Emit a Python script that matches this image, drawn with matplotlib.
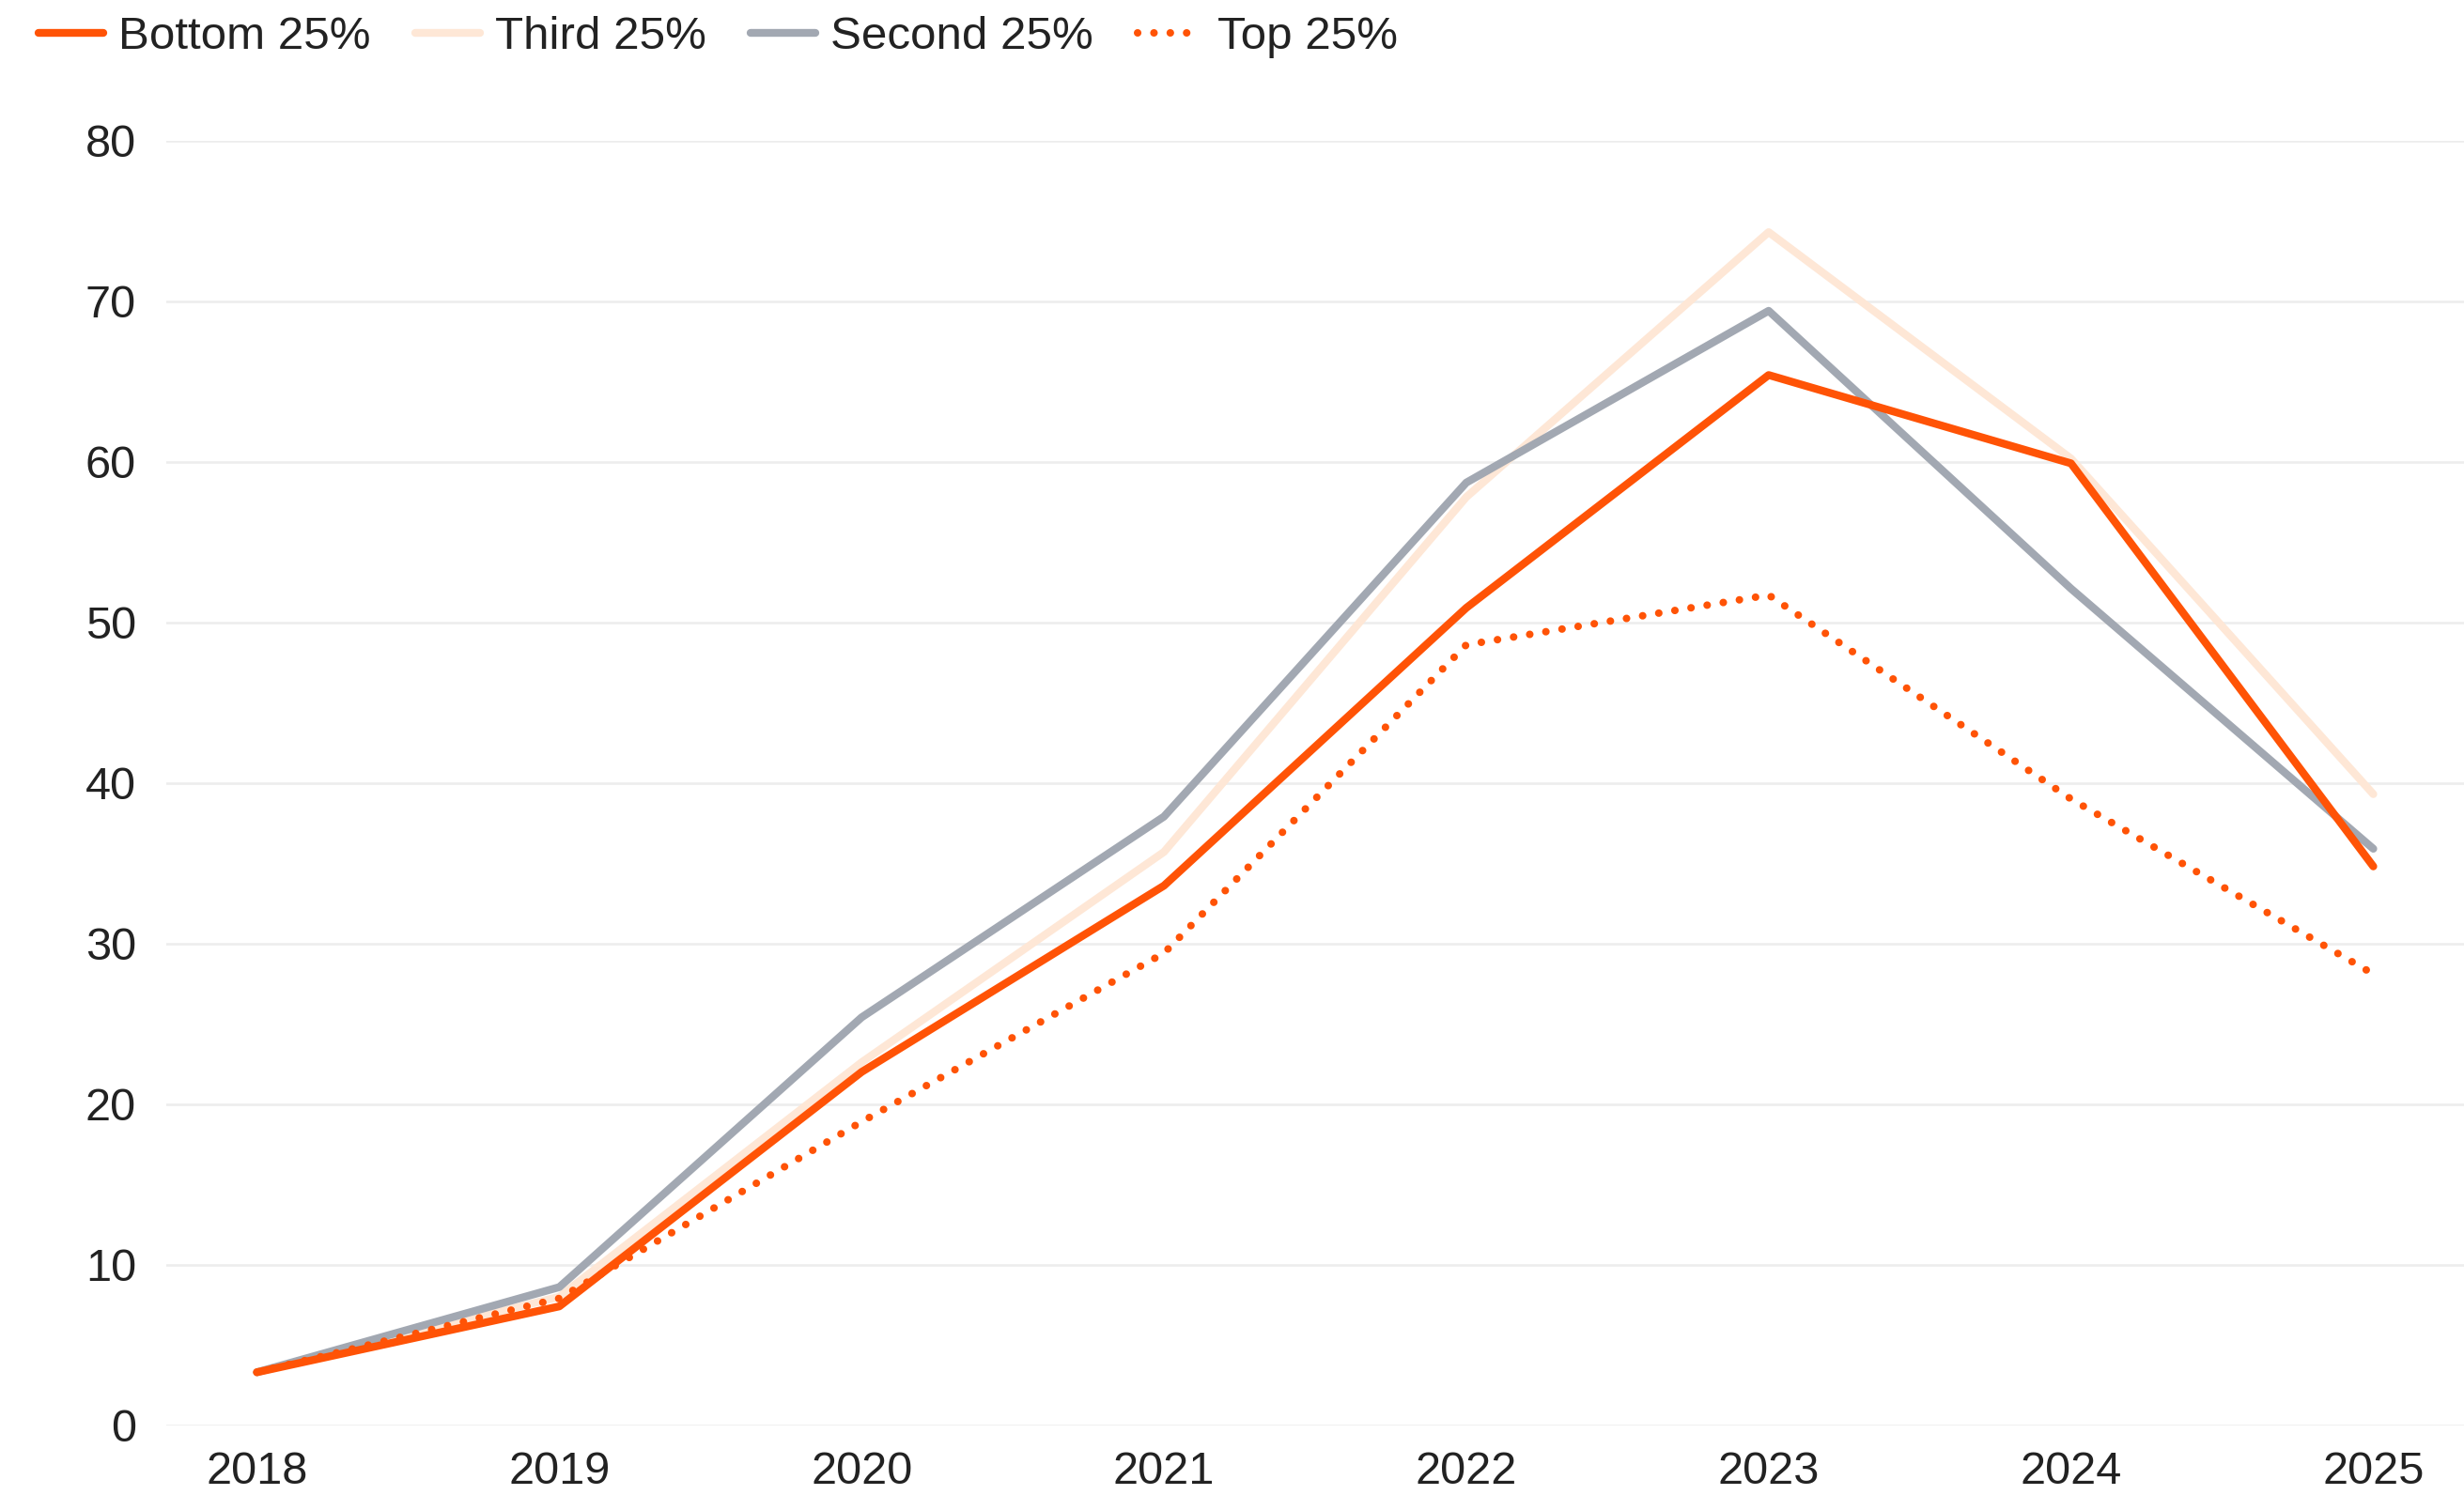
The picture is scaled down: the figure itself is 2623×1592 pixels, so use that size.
import matplotlib
matplotlib.use('Agg')
import matplotlib.pyplot as plt

# Data
years = [2018, 2019, 2020, 2021, 2022, 2023, 2024, 2025]
bottom = [3.3, 7.4, 22.0, 33.6, 50.9, 65.4, 59.9, 34.8]
third = [3.3, 8.0, 22.6, 35.7, 57.8, 74.3, 60.2, 39.3]
second = [3.3, 8.6, 25.4, 37.9, 58.7, 69.4, 52.1, 35.9]
top = [3.3, 7.9, 18.9, 29.4, 48.6, 51.7, 39.0, 28.1]
yticks = [0, 10, 20, 30, 40, 50, 60, 70, 80]

orange = '#FF5306'
peach = '#FEE7D6'
grey = '#A2A8B2'
txt = '#222222'

plt.rcParams['font.family'] = ['Liberation Sans', 'DejaVu Sans']

fig = plt.figure(figsize=(26.23, 15.92), dpi=100)
ax = fig.add_axes([177/2623, (1592-1517.7)/1592, 1-177/2623, (1517.7-149.7)/1592])

lw = 6.0
ax.plot(years, third, color=peach, lw=lw, label='Third 25%', zorder=3,
        solid_capstyle='round', clip_on=False)
ax.plot(years, second, color=grey, lw=lw, label='Second 25%', zorder=4,
        solid_capstyle='round', clip_on=False)
ax.plot(years, top, color=orange, lw=5.8, linestyle=(0, (0.01, 2.15)),
        dash_capstyle='round', label='Top 25%', zorder=5, clip_on=False)
ax.plot(years, bottom, color=orange, lw=lw, label='Bottom 25%', zorder=6,
        solid_capstyle='round', clip_on=False)

ax.set_xlim(2017.70, 2025.30)
ax.set_ylim(0, 80)
ax.set_xticks(years)
ax.set_yticks(yticks)
ax.tick_params(length=0, labelsize=35, colors=txt)
ax.tick_params(axis='y', pad=23)
ax.tick_params(axis='x', pad=20)
ax.grid(axis='y', color='#EDEDED', lw=1.9, zorder=0)
ax.set_axisbelow(True)
for s in ax.spines.values():
    s.set_visible(False)

# legend in the reference's order
h, l = ax.get_legend_handles_labels()
order = [3, 0, 1, 2]
leg = fig.legend([h[i] for i in order], [l[i] for i in order], loc='center left',
                 bbox_to_anchor=(41/2623, 1 - 40/1592), ncol=4, frameon=False,
                 fontsize=35.5, handlelength=1.4, handletextpad=0.33,
                 columnspacing=0.95, borderaxespad=0, borderpad=0)
for t in leg.get_texts():
    t.set_color(txt)

fig.savefig('out.png', dpi=100, facecolor='white')
